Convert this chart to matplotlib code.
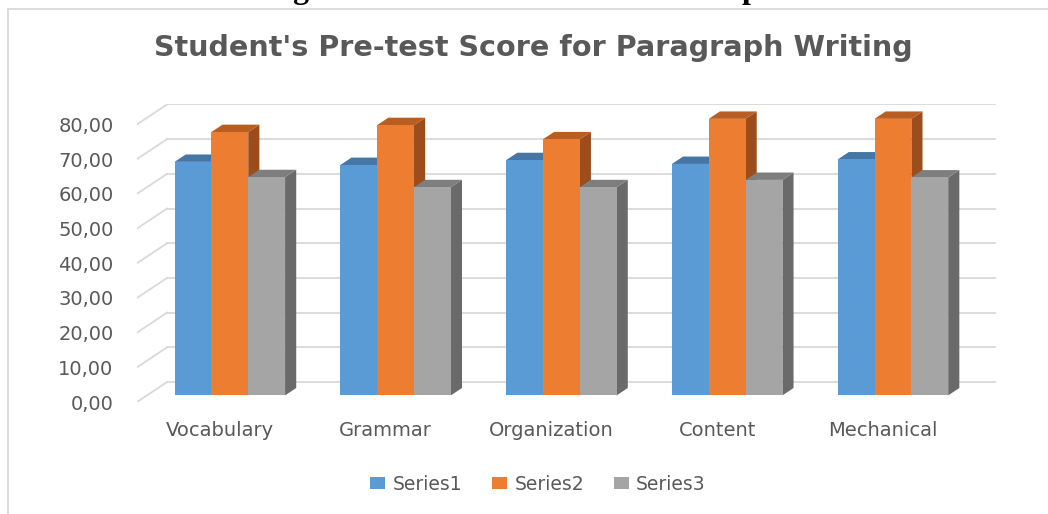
import matplotlib
matplotlib.use("Agg")
import matplotlib.pyplot as plt
from matplotlib.patches import Polygon, Rectangle, Patch
from matplotlib.lines import Line2D

categories = ["Vocabulary", "Grammar", "Organization", "Content", "Mechanical"]
series_names = ["Series1", "Series2", "Series3"]
series1 = [67.3, 66.4, 67.8, 66.7, 68.0]
series2 = [75.9, 77.9, 73.8, 79.7, 79.7]
series3 = [62.9, 60.0, 60.0, 62.1, 62.8]
yticks = [0, 10, 20, 30, 40, 50, 60, 70, 80]
ytick_labels = ["0,00", "10,00", "20,00", "30,00", "40,00", "50,00", "60,00", "70,00", "80,00"]
title = "Student's Pre-test Score for Paragraph Writing"

front_cols = ["#5B9BD5", "#ED7D31", "#A5A5A5"]
top_cols = ["#4676A6", "#B85E22", "#7E7E7E"]
side_cols = ["#3D6A96", "#9C4D1B", "#6A6A6A"]
grid_col = "#D9D9D9"
text_col = "#595959"

W, H = 1048, 514
fig = plt.figure(figsize=(W / 100, H / 100), dpi=100)
fig.patch.set_facecolor("white")

# chart border (extends past right/bottom edge)
fig.add_artist(Rectangle((8 / W, -0.1), 1.2, 1.1 - 9 / H, transform=fig.transFigure,
                         fill=False, edgecolor="#D9D9D9", lw=1.3))

# cut-off caption above the chart (only descenders visible, as in the reference)
for ch, xpx in [("g", 300), ("p", 750)]:
    fig.text(xpx / W, 1 + 2 / H, ch, fontsize=23, fontweight="bold",
             family="Liberation Serif", color="black", ha="center", va="baseline")

# axes geometry (oblique 3D projection)
Dx = 30 / 165.2   # full depth offset in category units
Dy = 20 / 3.47    # full depth offset in value units
ymax = 80
left_px, right_px = 137, 996
y0_px = 402
ytop_px = y0_px - (ymax + Dy) * 3.47
ax = fig.add_axes([left_px / W, (H - y0_px) / H, (right_px - left_px) / W,
                   (y0_px - ytop_px) / H])
ax.set_xlim(0, len(categories) + Dx)
ax.set_ylim(0, ymax + Dy)
for s in ax.spines.values():
    s.set_visible(False)
ax.set_facecolor("none")

# gridlines: side wall diagonals + back wall horizontals
for v in yticks:
    ax.add_line(Line2D([0, Dx], [v, v + Dy], color=grid_col, lw=1.3, zorder=1))
    ax.add_line(Line2D([Dx, len(categories) + Dx], [v + Dy, v + Dy], color=grid_col,
                       lw=1.3, zorder=1))

# bars
f0, d = 0.33, 0.37
sx, sy = f0 * Dx, f0 * Dy
bx, by = d * Dx, d * Dy
w = 1 / 4.5
data = [series1, series2, series3]
z = 2
for i in range(len(categories)):
    for j, vals in enumerate(data):
        h = vals[i]
        x0 = i + 0.5 - 1.5 * w + j * w + sx
        x1 = x0 + w
        side = Polygon([(x1, sy), (x1 + bx, sy + by), (x1 + bx, h + sy + by), (x1, h + sy)],
                       closed=True, facecolor=side_cols[j], edgecolor="none", zorder=z)
        top = Polygon([(x0, h + sy), (x1, h + sy), (x1 + bx, h + sy + by), (x0 + bx, h + sy + by)],
                      closed=True, facecolor=top_cols[j], edgecolor="none", zorder=z)
        front = Polygon([(x0, sy), (x1, sy), (x1, h + sy), (x0, h + sy)],
                        closed=True, facecolor=front_cols[j], edgecolor="none", zorder=z)
        ax.add_patch(side)
        ax.add_patch(top)
        ax.add_patch(front)
        z += 1

ax.set_yticks(yticks)
ax.set_yticklabels(ytick_labels)
ax.set_xticks([i + 0.5 for i in range(len(categories))])
ax.set_xticklabels(categories)
ax.tick_params(axis="y", length=0, pad=17, labelsize=14, labelcolor=text_col)
ax.tick_params(axis="x", length=0, pad=14, labelsize=14, labelcolor=text_col)
for lab in ax.get_xticklabels() + ax.get_yticklabels():
    lab.set_family("DejaVu Sans")

fig.text(533 / W, 1 - 48 / H, title, fontsize=20.6, fontweight="bold", color=text_col,
         ha="center", va="center", family="DejaVu Sans")

handles = [Patch(facecolor=c, edgecolor="none") for c in front_cols]
leg = fig.legend(handles, series_names, loc="center", bbox_to_anchor=(538 / W, 1 - 484 / H),
                 ncol=3, frameon=False, fontsize=13.5, handlelength=0.78, handleheight=0.67,
                 handletextpad=0.4, columnspacing=1.6, labelcolor=text_col)

fig.savefig("out.png", dpi=100, facecolor="white")
